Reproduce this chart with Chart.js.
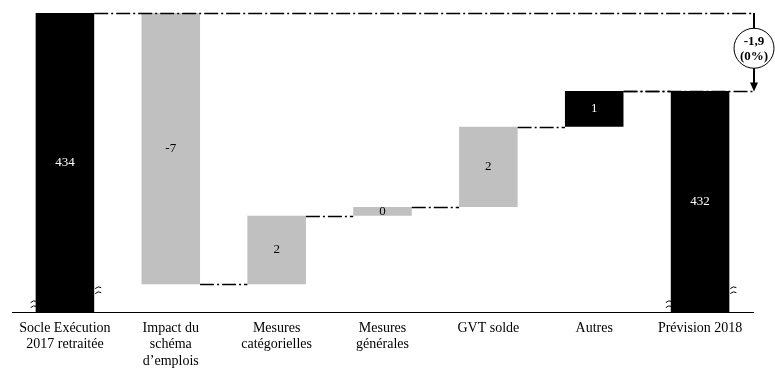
<!DOCTYPE html>
<html>
<head>
<meta charset="utf-8">
<script src="https://cdn.jsdelivr.net/npm/chart.js@4/dist/chart.umd.min.js"></script>
<style>
  html, body { margin: 0; padding: 0; background: #fff; }
  #wrap { width: 775px; height: 377px; }
</style>
</head>
<body>
<div id="wrap"><canvas id="waterfall"></canvas></div>
<script>
// categories (multi-line tick labels)
var categories = [
    ['Socle Exécution', '2017 retraitée'],
    ['Impact du', 'schéma', 'd\u2019emplois'],
    ['Mesures', 'catégorielles'],
    ['Mesures', 'générales'],
    'GVT solde',
    'Autres',
    'Prévision 2018'
];
var startValue = 433.9;                       // socle 2017
var changes = [-6.61, 1.67, 0.21, 1.96, 0.87]; // steps
var endValue = 432.0;                         // prévision 2018
var valueLabels = ['434', '-7', '2', '0', '2', '1', '432'];
var totalChange = '-1,9';
var totalChangePct = '(0%)';
var axisMin = 426.6;
var axisMax = 433.9;

var BLACK = '#000000';
var GREY = '#c0c0c0';
var barColors = [BLACK, GREY, GREY, GREY, GREY, BLACK, BLACK];
var labelColors = ['#ffffff', '#000000', '#000000', '#000000', '#000000', '#ffffff', '#ffffff'];

// build floating ranges
var ranges = [[axisMin, startValue]];
var running = startValue;
changes.forEach(function(c) {
    var next = running + c;
    ranges.push([Math.min(running, next), Math.max(running, next)]);
    running = next;
});
ranges.push([axisMin, endValue]);

// levels where the connectors sit (after each bar)
var levels = [startValue];
running = startValue;
changes.forEach(function(c) { running += c; levels.push(running); });

var SERIF = '"Liberation Serif", "DejaVu Serif", serif';

var extrasPlugin = {
    id: 'extras',
    afterDatasetsDraw: function(chart) {
        var ctx = chart.ctx;
        var meta = chart.getDatasetMeta(0);
        var y = chart.scales.y;
        var area = chart.chartArea;
        var arrowX = area.right + 1;

        ctx.save();
        // connectors
        ctx.strokeStyle = BLACK;
        ctx.lineWidth = 1.5;
        ctx.setLineDash([14, 3, 2, 3]);
        for (var i = 0; i < levels.length; i++) {
            var a = meta.data[i], b = meta.data[i + 1];
            var x1 = a.x + a.width / 2;
            var x2 = b.x - b.width / 2;
            var yy = Math.round(y.getPixelForValue(levels[i])) + 0.5;
            if (i === 0) x2 = arrowX;
            ctx.beginPath();
            ctx.moveTo(x1, yy);
            ctx.lineTo(x2, yy);
            ctx.stroke();
        }
        // line at the final level, continuing to the arrow
        var yEnd = Math.round(y.getPixelForValue(endValue)) + 0.5;
        ctx.beginPath();
        ctx.moveTo(meta.data[levels.length - 1].x + meta.data[levels.length - 1].width / 2, yEnd);
        ctx.lineTo(arrowX, yEnd);
        ctx.stroke();
        ctx.setLineDash([]);

        // arrow
        var yTop = y.getPixelForValue(startValue);
        ctx.lineWidth = 2;
        ctx.beginPath();
        ctx.moveTo(arrowX, yTop);
        ctx.lineTo(arrowX, yEnd - 8);
        ctx.stroke();
        ctx.beginPath();
        ctx.moveTo(arrowX - 4, yEnd - 9);
        ctx.lineTo(arrowX + 4, yEnd - 9);
        ctx.lineTo(arrowX, yEnd);
        ctx.closePath();
        ctx.fillStyle = BLACK;
        ctx.fill();

        // ellipse with total change
        var cy = (yTop + yEnd) / 2 - 4;
        ctx.beginPath();
        ctx.ellipse(arrowX, cy, 20, 20, 0, 0, Math.PI * 2);
        ctx.fillStyle = '#ffffff';
        ctx.fill();
        ctx.lineWidth = 1;
        ctx.strokeStyle = BLACK;
        ctx.stroke();
        ctx.fillStyle = BLACK;
        ctx.font = 'bold 13px ' + SERIF;
        ctx.textAlign = 'center';
        ctx.textBaseline = 'middle';
        ctx.fillText(totalChange, arrowX, cy - 7);
        ctx.fillText(totalChangePct, arrowX, cy + 8);

        // value labels
        ctx.font = '13px ' + SERIF;
        meta.data.forEach(function(bar, k) {
            var top = Math.min(bar.y, bar.base);
            var bot = Math.min(Math.max(bar.y, bar.base), area.bottom);
            ctx.fillStyle = labelColors[k];
            ctx.fillText(valueLabels[k], bar.x, (top + bot) / 2);
        });

        // axis break marks on the total bars
        ctx.strokeStyle = BLACK;
        ctx.lineWidth = 1;
        [0, meta.data.length - 1].forEach(function(k) {
            var bar = meta.data[k];
            var l = bar.x - bar.width / 2, r = bar.x + bar.width / 2;
            function squiggle(x, yy) {
                for (var n = 0; n < 2; n++) {
                    ctx.beginPath();
                    ctx.moveTo(x, yy + n * 5);
                    ctx.quadraticCurveTo(x + 3, yy + n * 5 - 3, x + 6, yy + n * 5 - 1);
                    ctx.stroke();
                }
            }
            squiggle(l - 5, area.bottom - 10);
            squiggle(r + 1, area.bottom - 24);
        });
        ctx.restore();
    }
};

var ctx = document.getElementById('waterfall').getContext('2d');
var chart = new Chart(ctx, {
    type: 'bar',
    data: {
        labels: categories,
        datasets: [{
            data: ranges,
            backgroundColor: barColors,
            borderWidth: 0,
            categoryPercentage: 1,
            barPercentage: 0.553
        }]
    },
    options: {
        responsive: true,
        maintainAspectRatio: false,
        animation: false,
        layout: { padding: { top: 13, left: 12, right: 22, bottom: 0 } },
        plugins: {
            legend: { display: false },
            tooltip: { enabled: false }
        },
        scales: {
            x: {
                grid: { display: false, drawTicks: false },
                border: { display: true, color: BLACK, width: 1 },
                ticks: {
                    color: BLACK,
                    autoSkip: false,
                    maxRotation: 0,
                    padding: 7,
                    font: { family: SERIF, size: 14, lineHeight: 1.2 }
                }
            },
            y: {
                display: false,
                min: axisMin,
                max: axisMax
            }
        }
    },
    plugins: [extrasPlugin]
});
</script>
</body>
</html>
